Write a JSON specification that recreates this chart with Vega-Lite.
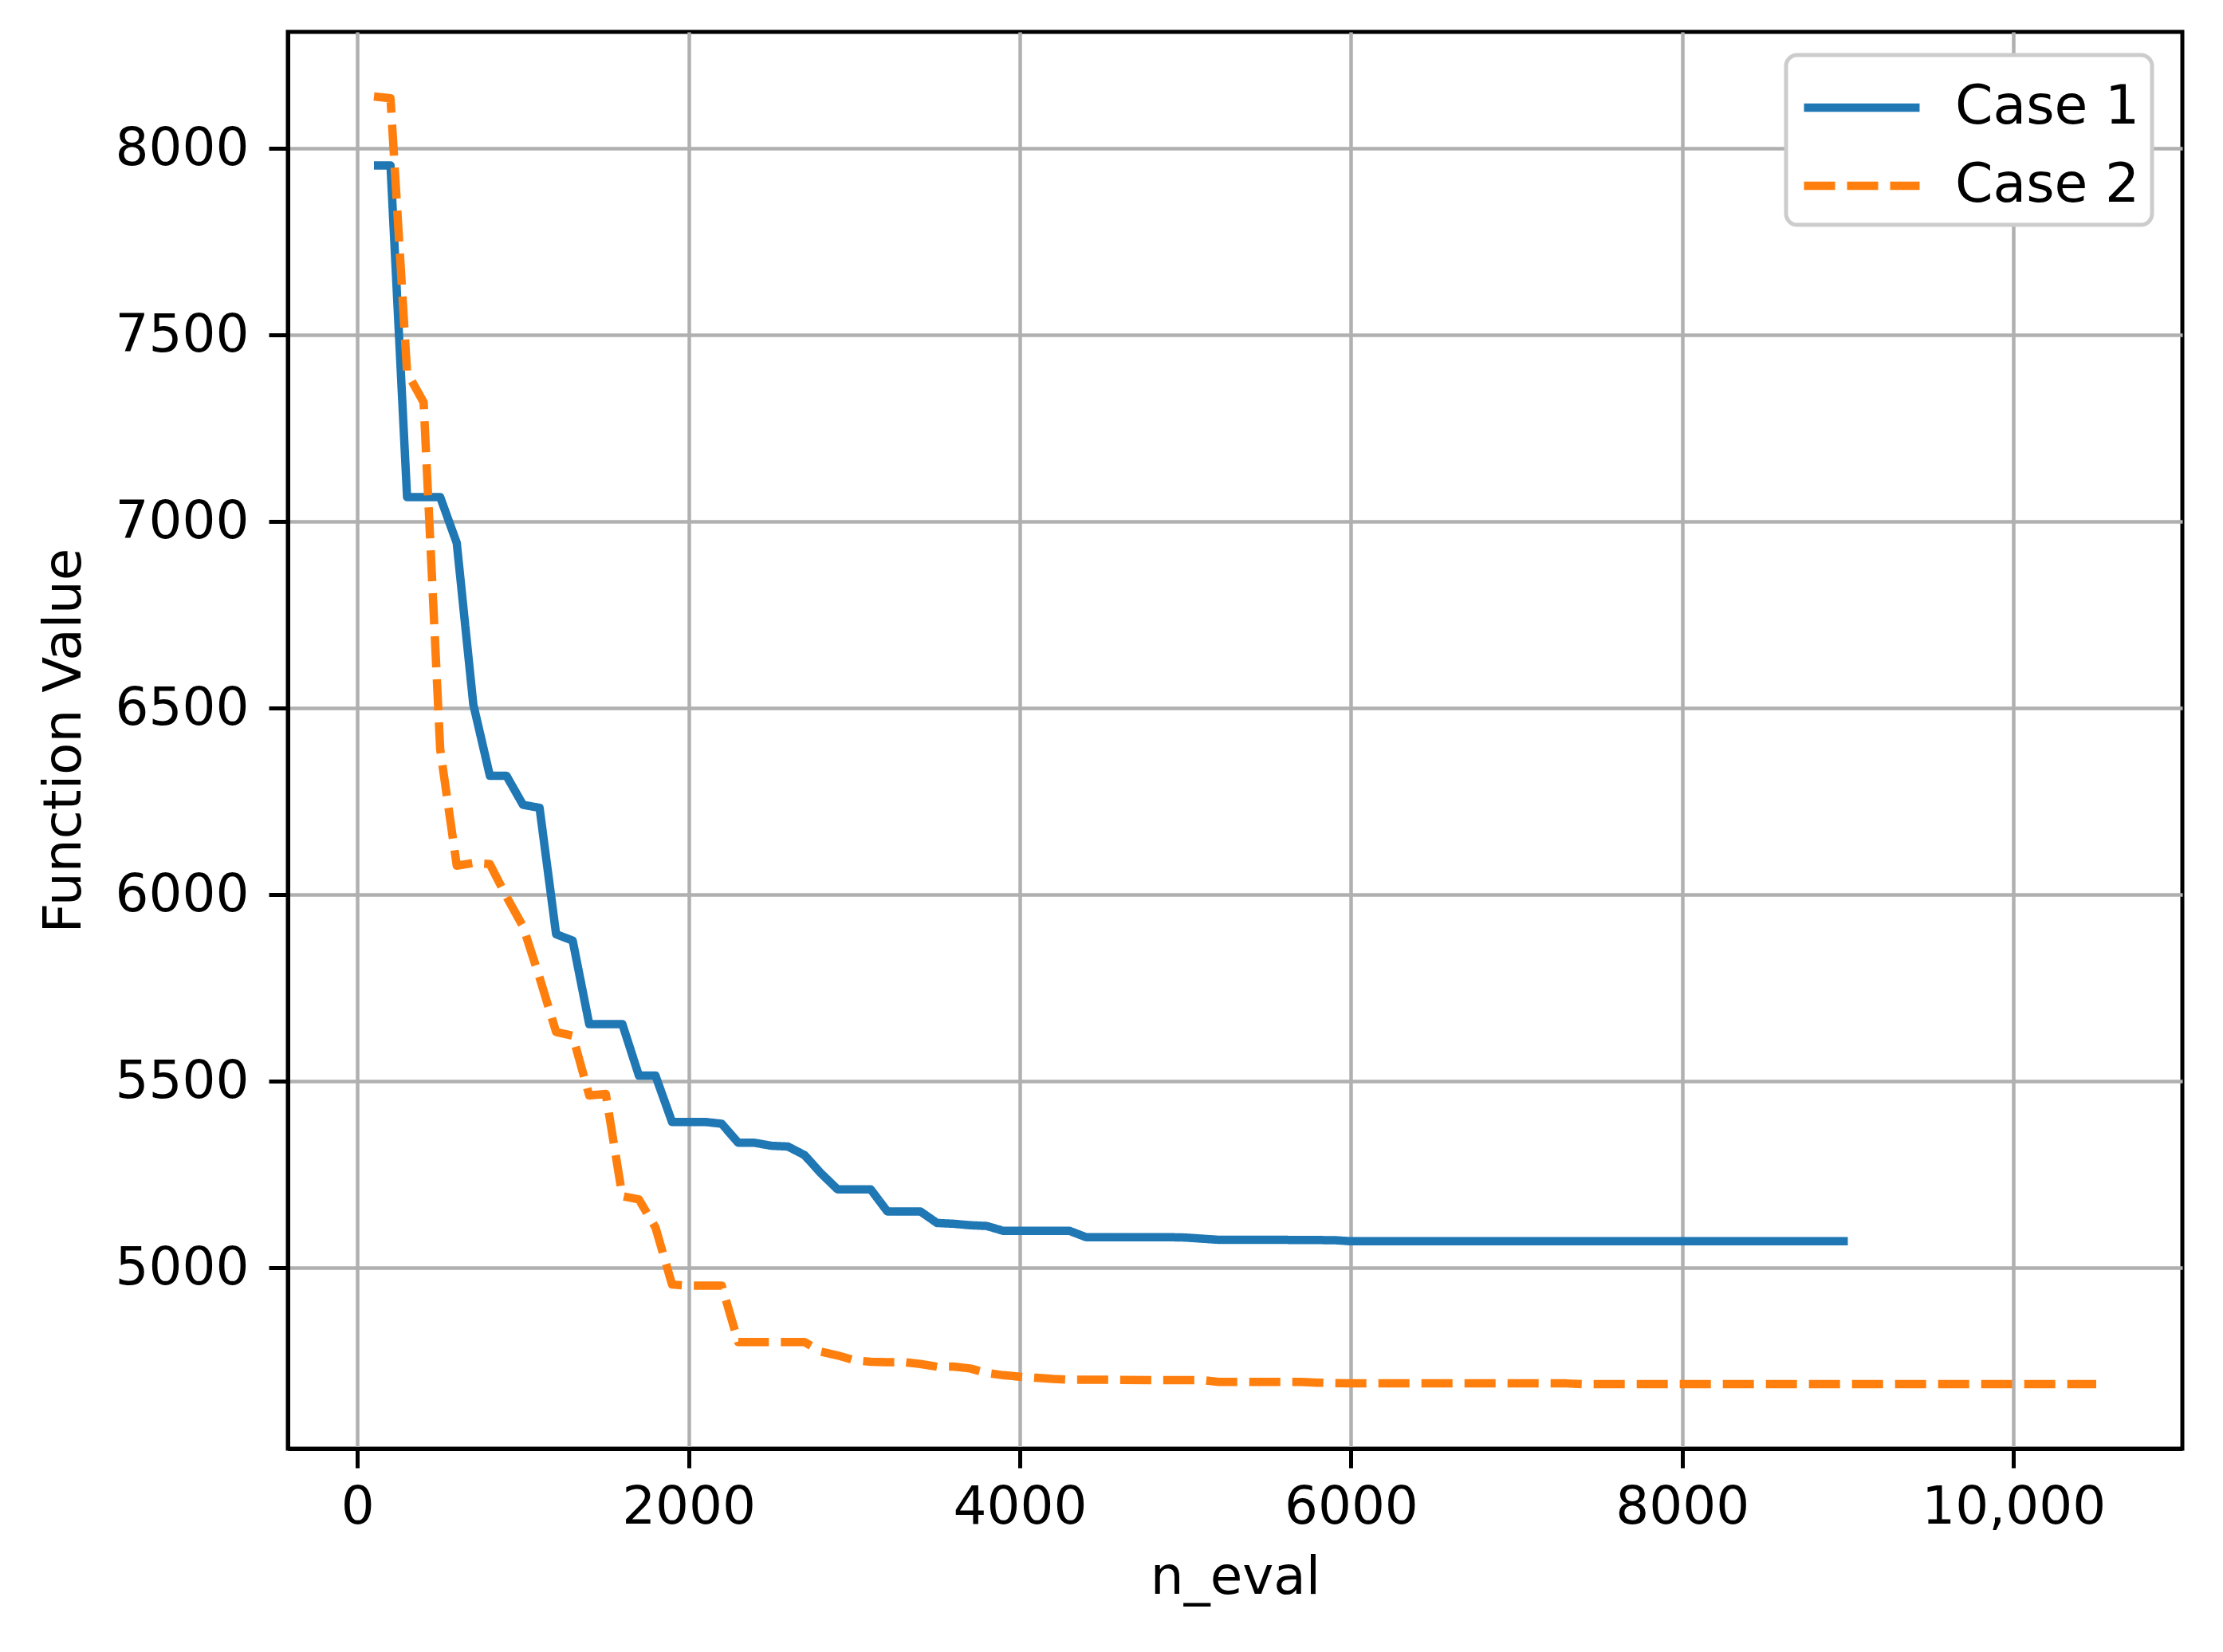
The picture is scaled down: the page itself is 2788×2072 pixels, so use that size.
{
  "$schema": "https://vega.github.io/schema/vega-lite/v6.json",
  "autosize": "none",
  "width": 2376,
  "height": 1777,
  "padding": {"left": 361, "top": 40, "right": 51, "bottom": 255},
  "background": "white",
  "config": {
    "font": "DejaVu Sans",
    "view": {"stroke": "black", "strokeWidth": 5},
    "axis": {
      "grid": true,
      "gridColor": "#b0b0b0",
      "gridWidth": 4.5,
      "domainColor": "black",
      "domainWidth": 5,
      "tickColor": "black",
      "tickWidth": 5,
      "tickSize": 24,
      "labelFont": "DejaVu Sans",
      "labelFontSize": 66,
      "labelColor": "black",
      "labelLimit": 0,
      "titleFont": "DejaVu Sans",
      "titleFontSize": 66,
      "titleFontWeight": "normal",
      "titleColor": "black"
    },
    "legend": {
      "labelFont": "DejaVu Sans",
      "labelFontSize": 68,
      "labelColor": "black",
      "labelLimit": 0
    }
  },
  "data": {
    "values": [
      {"n_eval": 100, "value": 7955, "case": "Case 1"},
      {"n_eval": 200, "value": 7955, "case": "Case 1"},
      {"n_eval": 300, "value": 7066, "case": "Case 1"},
      {"n_eval": 400, "value": 7066, "case": "Case 1"},
      {"n_eval": 500, "value": 7066, "case": "Case 1"},
      {"n_eval": 600, "value": 6943, "case": "Case 1"},
      {"n_eval": 700, "value": 6510, "case": "Case 1"},
      {"n_eval": 800, "value": 6319, "case": "Case 1"},
      {"n_eval": 900, "value": 6319, "case": "Case 1"},
      {"n_eval": 1000, "value": 6241, "case": "Case 1"},
      {"n_eval": 1100, "value": 6233, "case": "Case 1"},
      {"n_eval": 1200, "value": 5894, "case": "Case 1"},
      {"n_eval": 1300, "value": 5877, "case": "Case 1"},
      {"n_eval": 1400, "value": 5653, "case": "Case 1"},
      {"n_eval": 1500, "value": 5653, "case": "Case 1"},
      {"n_eval": 1600, "value": 5653, "case": "Case 1"},
      {"n_eval": 1700, "value": 5515, "case": "Case 1"},
      {"n_eval": 1800, "value": 5515, "case": "Case 1"},
      {"n_eval": 1900, "value": 5391, "case": "Case 1"},
      {"n_eval": 2000, "value": 5391, "case": "Case 1"},
      {"n_eval": 2100, "value": 5391, "case": "Case 1"},
      {"n_eval": 2200, "value": 5386, "case": "Case 1"},
      {"n_eval": 2300, "value": 5335, "case": "Case 1"},
      {"n_eval": 2400, "value": 5335, "case": "Case 1"},
      {"n_eval": 2500, "value": 5327, "case": "Case 1"},
      {"n_eval": 2600, "value": 5325, "case": "Case 1"},
      {"n_eval": 2700, "value": 5302, "case": "Case 1"},
      {"n_eval": 2800, "value": 5253, "case": "Case 1"},
      {"n_eval": 2900, "value": 5210, "case": "Case 1"},
      {"n_eval": 3000, "value": 5210, "case": "Case 1"},
      {"n_eval": 3100, "value": 5210, "case": "Case 1"},
      {"n_eval": 3200, "value": 5151, "case": "Case 1"},
      {"n_eval": 3300, "value": 5151, "case": "Case 1"},
      {"n_eval": 3400, "value": 5151, "case": "Case 1"},
      {"n_eval": 3500, "value": 5120, "case": "Case 1"},
      {"n_eval": 3600, "value": 5118, "case": "Case 1"},
      {"n_eval": 3700, "value": 5114, "case": "Case 1"},
      {"n_eval": 3800, "value": 5112, "case": "Case 1"},
      {"n_eval": 3900, "value": 5099, "case": "Case 1"},
      {"n_eval": 4000, "value": 5099, "case": "Case 1"},
      {"n_eval": 4100, "value": 5099, "case": "Case 1"},
      {"n_eval": 4200, "value": 5099, "case": "Case 1"},
      {"n_eval": 4300, "value": 5099, "case": "Case 1"},
      {"n_eval": 4400, "value": 5082, "case": "Case 1"},
      {"n_eval": 4500, "value": 5082, "case": "Case 1"},
      {"n_eval": 4600, "value": 5082, "case": "Case 1"},
      {"n_eval": 4700, "value": 5082, "case": "Case 1"},
      {"n_eval": 4800, "value": 5082, "case": "Case 1"},
      {"n_eval": 4900, "value": 5082, "case": "Case 1"},
      {"n_eval": 5000, "value": 5081, "case": "Case 1"},
      {"n_eval": 5100, "value": 5078, "case": "Case 1"},
      {"n_eval": 5200, "value": 5075, "case": "Case 1"},
      {"n_eval": 5500, "value": 5075, "case": "Case 1"},
      {"n_eval": 5900, "value": 5074, "case": "Case 1"},
      {"n_eval": 6000, "value": 5071, "case": "Case 1"},
      {"n_eval": 6500, "value": 5071, "case": "Case 1"},
      {"n_eval": 7000, "value": 5071, "case": "Case 1"},
      {"n_eval": 7500, "value": 5071, "case": "Case 1"},
      {"n_eval": 8000, "value": 5071, "case": "Case 1"},
      {"n_eval": 8500, "value": 5071, "case": "Case 1"},
      {"n_eval": 9000, "value": 5071, "case": "Case 1"},
      {"n_eval": 100, "value": 8140, "case": "Case 2"},
      {"n_eval": 200, "value": 8135, "case": "Case 2"},
      {"n_eval": 300, "value": 7400, "case": "Case 2"},
      {"n_eval": 400, "value": 7320, "case": "Case 2"},
      {"n_eval": 500, "value": 6390, "case": "Case 2"},
      {"n_eval": 600, "value": 6078, "case": "Case 2"},
      {"n_eval": 700, "value": 6085, "case": "Case 2"},
      {"n_eval": 800, "value": 6082, "case": "Case 2"},
      {"n_eval": 900, "value": 5995, "case": "Case 2"},
      {"n_eval": 1000, "value": 5915, "case": "Case 2"},
      {"n_eval": 1100, "value": 5778, "case": "Case 2"},
      {"n_eval": 1200, "value": 5632, "case": "Case 2"},
      {"n_eval": 1300, "value": 5622, "case": "Case 2"},
      {"n_eval": 1400, "value": 5462, "case": "Case 2"},
      {"n_eval": 1500, "value": 5466, "case": "Case 2"},
      {"n_eval": 1600, "value": 5192, "case": "Case 2"},
      {"n_eval": 1700, "value": 5183, "case": "Case 2"},
      {"n_eval": 1800, "value": 5108, "case": "Case 2"},
      {"n_eval": 1900, "value": 4955, "case": "Case 2"},
      {"n_eval": 2000, "value": 4952, "case": "Case 2"},
      {"n_eval": 2100, "value": 4952, "case": "Case 2"},
      {"n_eval": 2200, "value": 4952, "case": "Case 2"},
      {"n_eval": 2300, "value": 4801, "case": "Case 2"},
      {"n_eval": 2400, "value": 4801, "case": "Case 2"},
      {"n_eval": 2500, "value": 4801, "case": "Case 2"},
      {"n_eval": 2600, "value": 4801, "case": "Case 2"},
      {"n_eval": 2700, "value": 4801, "case": "Case 2"},
      {"n_eval": 2800, "value": 4775, "case": "Case 2"},
      {"n_eval": 2900, "value": 4765, "case": "Case 2"},
      {"n_eval": 3000, "value": 4752, "case": "Case 2"},
      {"n_eval": 3100, "value": 4748, "case": "Case 2"},
      {"n_eval": 3200, "value": 4747, "case": "Case 2"},
      {"n_eval": 3300, "value": 4747, "case": "Case 2"},
      {"n_eval": 3400, "value": 4742, "case": "Case 2"},
      {"n_eval": 3500, "value": 4735, "case": "Case 2"},
      {"n_eval": 3600, "value": 4735, "case": "Case 2"},
      {"n_eval": 3700, "value": 4730, "case": "Case 2"},
      {"n_eval": 3800, "value": 4718, "case": "Case 2"},
      {"n_eval": 3900, "value": 4712, "case": "Case 2"},
      {"n_eval": 4000, "value": 4708, "case": "Case 2"},
      {"n_eval": 4100, "value": 4705, "case": "Case 2"},
      {"n_eval": 4200, "value": 4702, "case": "Case 2"},
      {"n_eval": 4300, "value": 4700, "case": "Case 2"},
      {"n_eval": 4400, "value": 4700, "case": "Case 2"},
      {"n_eval": 4800, "value": 4699, "case": "Case 2"},
      {"n_eval": 5100, "value": 4699, "case": "Case 2"},
      {"n_eval": 5200, "value": 4694, "case": "Case 2"},
      {"n_eval": 5700, "value": 4694, "case": "Case 2"},
      {"n_eval": 5800, "value": 4692, "case": "Case 2"},
      {"n_eval": 5900, "value": 4691, "case": "Case 2"},
      {"n_eval": 6000, "value": 4690, "case": "Case 2"},
      {"n_eval": 6500, "value": 4690, "case": "Case 2"},
      {"n_eval": 7000, "value": 4690, "case": "Case 2"},
      {"n_eval": 7300, "value": 4690, "case": "Case 2"},
      {"n_eval": 7400, "value": 4688, "case": "Case 2"},
      {"n_eval": 8000, "value": 4688, "case": "Case 2"},
      {"n_eval": 8500, "value": 4688, "case": "Case 2"},
      {"n_eval": 9000, "value": 4688, "case": "Case 2"},
      {"n_eval": 9500, "value": 4688, "case": "Case 2"},
      {"n_eval": 10000, "value": 4688, "case": "Case 2"},
      {"n_eval": 10500, "value": 4688, "case": "Case 2"}
    ]
  },
  "mark": {"type": "line", "strokeWidth": 10.5, "strokeCap": "butt", "strokeJoin": "round", "clip": true},
  "encoding": {
    "x": {
      "field": "n_eval",
      "type": "quantitative",
      "title": "n_eval",
      "scale": {"domain": [-420, 11020], "nice": false, "zero": false},
      "axis": {
        "values": [0, 2000, 4000, 6000, 8000, 10000],
        "labelExpr": "datum.value >= 10000 ? format(datum.value, ',') : format(datum.value, 'd')",
        "labelPadding": 17,
        "titlePadding": 23
      }
    },
    "y": {
      "field": "value",
      "type": "quantitative",
      "title": "Function Value",
      "scale": {"domain": [4515, 8313], "nice": false, "zero": false},
      "axis": {
        "values": [5000, 5500, 6000, 6500, 7000, 7500, 8000],
        "format": "d",
        "labelPadding": 25,
        "titlePadding": 47
      }
    },
    "color": {
      "field": "case",
      "type": "nominal",
      "scale": {"domain": ["Case 1", "Case 2"], "range": ["#1f77b4", "#ff7f0e"]},
      "legend": {
        "title": null,
        "orient": "none",
        "legendX": 1879,
        "legendY": 29,
        "symbolType": "M-1.6,0H1.6",
        "symbolSize": 8208,
        "symbolStrokeWidth": 10.5,
        "symbolOffset": 29,
        "labelOffset": 66,
        "labelExpr": "datum.label + '\u2009'",
        "rowPadding": 13,
        "padding": 15,
        "strokeColor": "#cccccc",
        "cornerRadius": 14,
        "fillColor": "white",
        "encode": {"legend": {"update": {"strokeWidth": {"value": 5}}}}
      }
    },
    "strokeDash": {
      "field": "case",
      "type": "nominal",
      "scale": {"domain": ["Case 1", "Case 2"], "range": [[1, 0], [39, 15]]},
      "legend": null
    }
  }
}
